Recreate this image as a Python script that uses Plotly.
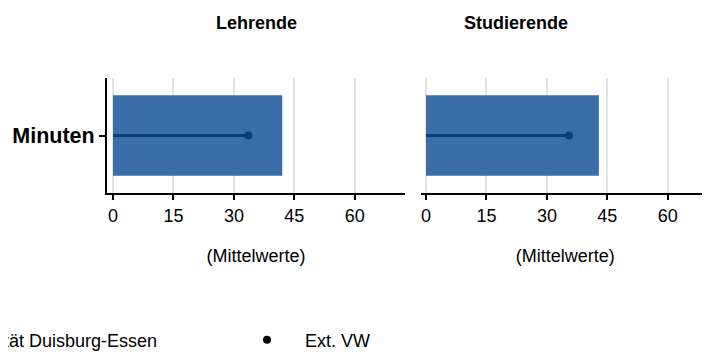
import plotly.graph_objects as go

# data
groups = ["Lehrende", "Studierende"]
category = ["Minuten"]
ude_values = [42.0, 42.9]      # Universität Duisburg-Essen (Balken)
ext_values = [33.6, 35.5]      # Ext. VW (Punkt)
tick_vals = [0, 15, 30, 45, 60]

BAR_COLOR = "#3a6ea8"
LINE_COLOR = "#0b3d7e"
FONT = "Arial, Liberation Sans, sans-serif"

fig = go.Figure()

for i, grp in enumerate(groups):
    xa = "x" if i == 0 else "x2"
    ya = "y" if i == 0 else "y2"
    fig.add_trace(go.Bar(
        x=[ude_values[i]], y=category, orientation="h",
        marker=dict(color=BAR_COLOR, line=dict(width=0)),
        width=0.7, name="Universität Duisburg-Essen",
        showlegend=(i == 0), legend="legend", xaxis=xa, yaxis=ya,
    ))
    # line from 0 to the comparison value
    fig.add_trace(go.Scatter(
        x=[0, ext_values[i]], y=category * 2, mode="lines",
        line=dict(color=LINE_COLOR, width=3),
        showlegend=False, hoverinfo="skip", xaxis=xa, yaxis=ya,
    ))
    fig.add_trace(go.Scatter(
        x=[ext_values[i]], y=category, mode="markers",
        marker=dict(color=LINE_COLOR, size=8),
        name="Ext. VW", showlegend=False, xaxis=xa, yaxis=ya,
    ))

# legend-only entry: black point like the reference key
fig.add_trace(go.Scatter(
    x=[None], y=[None], mode="markers", marker=dict(color="black", size=8),
    name="Ext. VW", legend="legend2", showlegend=True,
))

# page has 8px body margin -> figure coords = window coords - 8
W, H = 702, 348
B = 30            # bottom margin so the legend sits "below" the plot area
HP = H - B
px_per = 4.03
y_dom = [(HP - 185) / HP, (HP - 70) / HP]

xcommon = dict(
    tickvals=tick_vals, ticks="outside", ticklen=5, tickwidth=2, tickcolor="black",
    showline=True, linecolor="black", linewidth=2,
    showgrid=True, gridcolor="#e3e3e3", gridwidth=2, zeroline=False,
    tickfont=dict(size=18, color="black", family=FONT),
    title=dict(text="(Mittelwerte)", font=dict(size=18, color="black", family=FONT), standoff=25),
    fixedrange=True,
)
legend_font = dict(size=18, color="black", family=FONT)

fig.update_layout(
    width=W, height=H,
    margin=dict(l=0, r=0, t=0, b=B, autoexpand=False),
    paper_bgcolor="white", plot_bgcolor="white",
    font=dict(family=FONT, color="black"),
    barmode="overlay",
    xaxis=dict(domain=[99 / W, 397 / W], range=[(99 - 105) / px_per, (397 - 105) / px_per],
               anchor="y", **xcommon),
    xaxis2=dict(domain=[412.5 / W, 1.0], range=[(412.5 - 418) / px_per, (702 - 418) / px_per],
                anchor="y2", **xcommon),
    yaxis=dict(domain=y_dom, range=[-0.5, 0.5], showline=True, linecolor="black", linewidth=2,
               ticks="outside", ticklen=6, tickwidth=2, tickcolor="black",
               tickvals=category, ticktext=["<b>Minuten</b>"],
               tickfont=dict(size=21.5, color="black", family=FONT),
               showgrid=False, fixedrange=True),
    yaxis2=dict(domain=y_dom, range=[-0.5, 0.5], anchor="x2", showline=False,
                showticklabels=False, ticks="", showgrid=False, fixedrange=True),
    legend=dict(orientation="h", x=-109 / W, y=(HP - 332) / HP, xanchor="left", yanchor="middle",
                font=legend_font, itemwidth=30, bgcolor="rgba(0,0,0,0)"),
    legend2=dict(orientation="h", x=221 / W, y=(HP - 332) / HP, xanchor="left", yanchor="middle",
                 font=legend_font, itemwidth=66, bgcolor="rgba(0,0,0,0)"),
    annotations=[
        dict(text="<b>Lehrende</b>", x=248 / W, y=(HP - 15) / HP, xref="paper", yref="paper",
             yanchor="middle", showarrow=False, font=dict(size=18, color="black", family=FONT)),
        dict(text="<b>Studierende</b>", x=562 / W, y=(HP - 15) / HP, xref="paper", yref="paper",
             yanchor="middle", showarrow=False, font=dict(size=18, color="black", family=FONT)),
    ],
)

fig.write_html("out.html")
